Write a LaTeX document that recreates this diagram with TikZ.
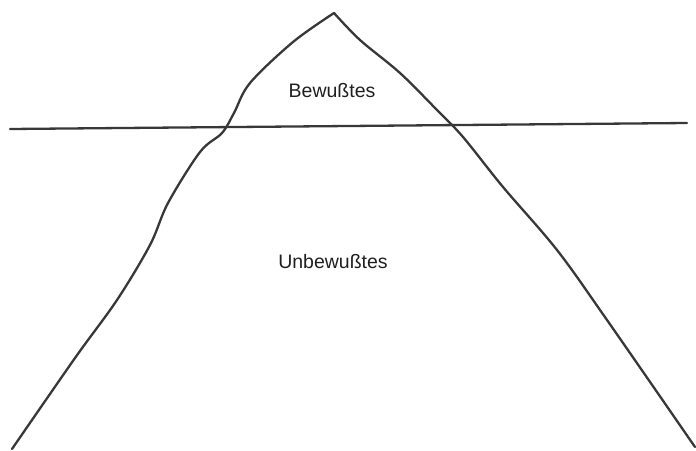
\documentclass[tikz,border=0pt]{standalone}
\usepackage{fontspec}
\setmainfont{Liberation Sans}
\begin{document}
\begin{tikzpicture}[x=1pt,y=-1pt,
  stroke/.style={draw=black!78,line width=2.3pt,line cap=round,line join=round},
  lbl/.style={anchor=base,inner sep=0pt,font=\fontsize{19.5}{22}\selectfont,text=black!88}]
\useasboundingbox (0,0) rectangle (696,450);
% left flank
\draw[stroke] plot[smooth,tension=0.55] coordinates {(12,449) (75,358) (117,300) (150,245) (168,203) (200,152) (222,133) (234,113) (250,83) (293,42) (334,13)};
% right flank
\draw[stroke] plot[smooth,tension=0.55] coordinates {(334,13) (360,40) (400,73) (437,110) (463,137) (503,187) (557,250) (607,320) (695,447)};
% water line
\coordinate (wl) at (10,129);
\coordinate (wr) at (687,123);
\draw[stroke] (wl) -- (wr);
\node[lbl] (bew) at (332,97) {Bewußtes};
\node[lbl] (unbew) at (333,268) {Unbewußtes};
\end{tikzpicture}
\end{document}
